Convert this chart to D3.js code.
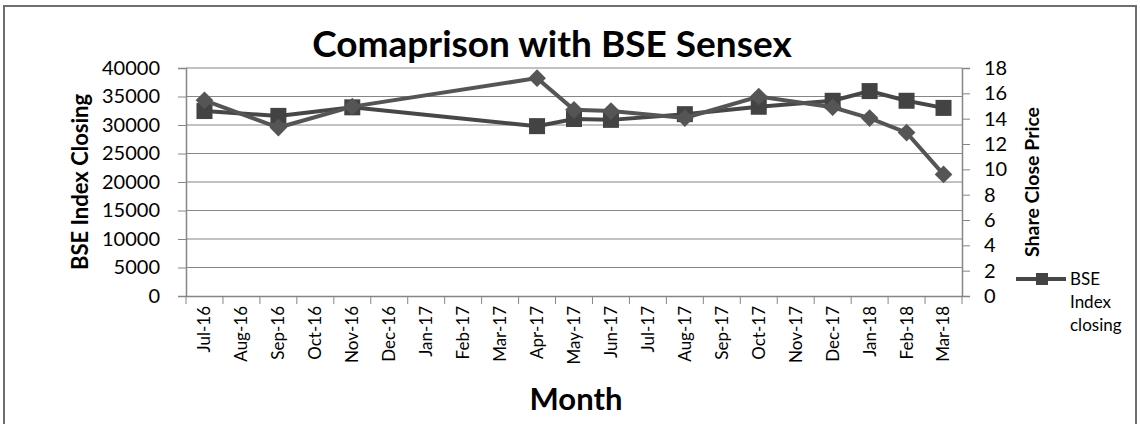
<!DOCTYPE html>
<html>
<head>
<meta charset="utf-8">
<script src="https://cdn.jsdelivr.net/npm/d3@7"></script>
<style>
  body { margin: 0; background: #fff; }
  text { font-family: Lato, "Open Sans", sans-serif; fill: #000; }
</style>
</head>
<body>
<script>
// chart data
var months = ['Jul-16','Aug-16','Sep-16','Oct-16','Nov-16','Dec-16','Jan-17','Feb-17','Mar-17',
  'Apr-17','May-17','Jun-17','Jul-17','Aug-17','Sep-17','Oct-17','Nov-17','Dec-17','Jan-18','Feb-18','Mar-18'];
var bseMonths = ['Jul-16','Sep-16','Nov-16','Apr-17','May-17','Jun-17','Aug-17','Oct-17','Dec-17','Jan-18','Feb-18','Mar-18'];
var bseClosing = [32450, 31600, 33100, 29800, 31050, 30900, 31900, 33200, 34250, 35950, 34250, 33000];
var sharePrice = [15.45, 13.3, 14.95, 17.2, 14.7, 14.6, 14.05, 15.75, 14.9, 14.05, 12.9, 9.6];
var leftTicks = [0, 5000, 10000, 15000, 20000, 25000, 30000, 35000, 40000];
var rightTicks = [0, 2, 4, 6, 8, 10, 12, 14, 16, 18];

var W = 1140, H = 424;
var plotL = 186, plotR = 962, plotT = 68, plotB = 296;
var grey = '#868686';

var svg = d3.select('body').append('svg')
  .attr('width', W)
  .attr('height', H);

// outer frame
svg.append('rect')
  .attr('x', 4).attr('y', 6)
  .attr('width', 1132).attr('height', 430)
  .attr('fill', 'none')
  .attr('stroke', '#6e6e6e')
  .attr('stroke-width', 2);

var x = d3.scaleBand().domain(months).range([plotL, plotR]);
var yL = d3.scaleLinear().domain([0, 40000]).range([plotB, plotT]);
var yR = d3.scaleLinear().domain([0, 18]).range([plotB, plotT]);

// gridlines
svg.append('g')
  .selectAll('line')
  .data(leftTicks.slice(1))
  .enter()
  .append('line')
  .attr('x1', plotL).attr('x2', plotR)
  .attr('y1', function(d) { return yL(d); })
  .attr('y2', function(d) { return yL(d); })
  .attr('stroke', grey)
  .attr('stroke-width', 1.2);

// left axis
var gl = svg.append('g')
  .attr('transform', 'translate(' + plotL + ',0)')
  .call(d3.axisLeft(yL).tickValues(leftTicks).tickFormat(d3.format('d')).tickSize(8).tickPadding(18));
gl.selectAll('text').style('font-size', '20px');

// right axis
var gr = svg.append('g')
  .attr('transform', 'translate(' + plotR + ',0)')
  .call(d3.axisRight(yR).tickValues(rightTicks).tickFormat(d3.format('d')).tickSize(8).tickPadding(14));
gr.selectAll('text').style('font-size', '20px');

// bottom axis, ticks at category boundaries
var gb = svg.append('g')
  .attr('transform', 'translate(0,' + plotB + ')')
  .call(d3.axisBottom(x).tickSize(0).tickPadding(0));
gb.selectAll('text')
  .style('font-size', '17px')
  .attr('text-anchor', 'end')
  .attr('transform', 'rotate(-90)')
  .attr('x', -10)
  .attr('y', 0)
  .attr('dy', '0.35em');
gb.selectAll('.boundary')
  .data(d3.range(months.length + 1))
  .enter()
  .append('line')
  .attr('x1', function(i) { return plotL + i * x.step(); })
  .attr('x2', function(i) { return plotL + i * x.step(); })
  .attr('y1', 0).attr('y2', 8)
  .attr('stroke', grey);

svg.selectAll('.domain').attr('stroke', grey).attr('stroke-width', 1.5);
svg.selectAll('.tick line').attr('stroke', grey);

// series
var cx = function(d, i) { return x(bseMonths[i]) + x.bandwidth() / 2; };

var bseLine = d3.line()
  .x(function(d, i) { return cx(d, i); })
  .y(function(d) { return yL(d); });
var shareLine = d3.line()
  .x(function(d, i) { return cx(d, i); })
  .y(function(d) { return yR(d); });

svg.append('path')
  .attr('d', bseLine(bseClosing))
  .attr('fill', 'none')
  .attr('stroke', '#474747')
  .attr('stroke-width', 4);

svg.selectAll('.sq')
  .data(bseClosing)
  .enter()
  .append('rect')
  .attr('x', function(d, i) { return cx(d, i) - 8; })
  .attr('y', function(d) { return yL(d) - 8; })
  .attr('width', 16).attr('height', 16)
  .attr('fill', '#434343');

svg.append('path')
  .attr('d', shareLine(sharePrice))
  .attr('fill', 'none')
  .attr('stroke', '#555555')
  .attr('stroke-width', 4);

svg.selectAll('.dm')
  .data(sharePrice)
  .enter()
  .append('path')
  .attr('d', d3.symbol().type(d3.symbolDiamond2).size(200))
  .attr('transform', function(d, i) { return 'translate(' + cx(d, i) + ',' + yR(d) + ')'; })
  .attr('fill', '#555555');

// titles
svg.append('text')
  .attr('x', 552).attr('y', 57)
  .attr('text-anchor', 'middle')
  .style('font-size', '37px')
  .style('font-weight', 'bold')
  .text('Comaprison with BSE Sensex');

svg.append('text')
  .attr('transform', 'translate(88,182) rotate(-90)')
  .attr('text-anchor', 'middle')
  .style('font-size', '22px')
  .style('font-weight', 'bold')
  .text('BSE Index Closing');

svg.append('text')
  .attr('transform', 'translate(1039,182) rotate(-90)')
  .attr('text-anchor', 'middle')
  .style('font-size', '19.5px')
  .style('font-weight', 'bold')
  .text('Share Close Price');

svg.append('text')
  .attr('x', 576).attr('y', 410)
  .attr('text-anchor', 'middle')
  .style('font-size', '31px')
  .style('font-weight', 'bold')
  .text('Month');

// legend
var lg = svg.append('g').attr('transform', 'translate(1016,279)');
lg.append('line')
  .attr('x1', 0).attr('x2', 50)
  .attr('stroke', '#474747').attr('stroke-width', 4);
lg.append('rect')
  .attr('x', 20).attr('y', -6).attr('width', 12).attr('height', 12)
  .attr('fill', '#434343');
lg.selectAll('.lt')
  .data(['BSE', 'Index', 'closing'])
  .enter()
  .append('text')
  .attr('x', 54)
  .attr('y', function(d, i) { return 6 + i * 23; })
  .style('font-size', '17px')
  .text(function(d) { return d; });
</script>
</body>
</html>
